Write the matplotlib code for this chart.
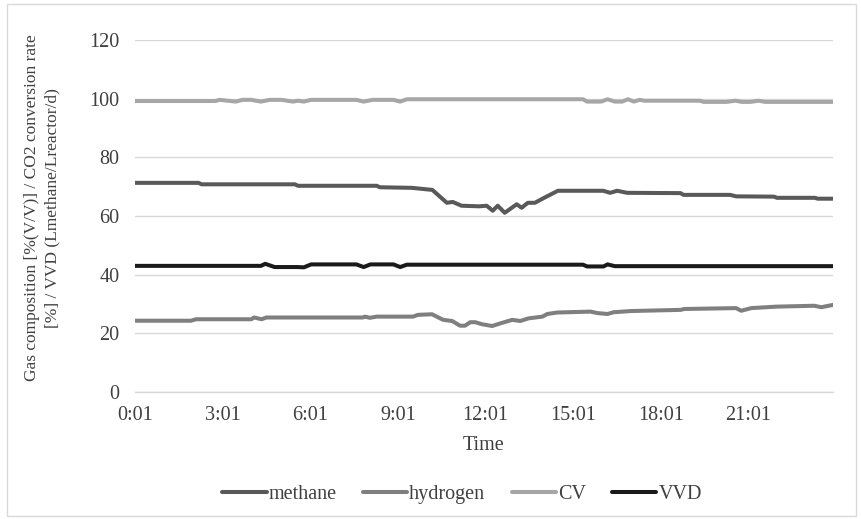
import matplotlib
matplotlib.use("Agg")
import matplotlib.pyplot as plt
from matplotlib.patches import Rectangle

# time in hours (0:01 = 0.02)
methane_t = [0.02, 2.2, 2.3, 5.5, 5.6, 8.3, 8.4, 9.5, 10.2, 10.7, 10.9, 11.2, 11.8, 12.06,
             12.27, 12.44, 12.68, 13.09, 13.26, 13.47, 13.71, 14.05, 14.5, 16.05, 16.29,
             16.53, 16.87, 18.7, 18.8, 20.4, 20.6, 21.9, 22.0, 23.3, 23.4, 23.92]
methane_v = [71.3, 71.3, 70.8, 70.8, 70.3, 70.3, 69.8, 69.6, 68.9, 64.5, 64.8, 63.5, 63.3, 63.5,
             61.8, 63.5, 61.1, 64.0, 62.8, 64.5, 64.5, 66.3, 68.6, 68.6, 67.9,
             68.6, 67.9, 67.8, 67.2, 67.2, 66.7, 66.6, 66.2, 66.2, 65.9, 65.9]

hydrogen_t = [0.02, 1.94, 2.11, 4.0, 4.1, 4.35, 4.52, 7.82, 7.89, 8.06, 8.3, 9.54, 9.71, 10.19,
              10.57, 10.88, 11.15, 11.32, 11.5, 11.67, 11.9, 12.25, 12.53, 12.94, 13.21,
              13.49, 13.97, 14.14, 14.48, 15.62, 15.86, 16.2, 16.41, 17.0, 18.71, 18.82,
              20.6, 20.78, 21.12, 21.98, 23.28, 23.52, 23.92]
hydrogen_v = [24.3, 24.3, 24.8, 24.8, 25.4, 24.8, 25.4, 25.4, 25.7, 25.3, 25.7, 25.7, 26.3, 26.5,
              24.6, 24.2, 22.6, 22.6, 23.8, 23.8, 23.1, 22.5, 23.4, 24.6, 24.2,
              25.1, 25.7, 26.6, 27.1, 27.4, 26.9, 26.6, 27.2, 27.6, 28.0, 28.3,
              28.6, 27.7, 28.6, 29.1, 29.4, 28.9, 29.7]

cv_t = [0.02, 2.77, 2.92, 3.47, 3.7, 4.0, 4.33, 4.64, 5.03, 5.43, 5.6, 5.8, 6.05, 7.6, 7.85,
        8.16, 8.87, 9.1, 9.33, 15.36, 15.5, 15.98, 16.2, 16.45, 16.7, 16.9, 17.1, 17.3,
        17.47, 19.35, 19.5, 20.27, 20.58, 20.8, 21.1, 21.37, 21.6, 23.92]
cv_v = [99.2, 99.2, 99.6, 99.0, 99.6, 99.6, 99.0, 99.6, 99.6, 99.0, 99.3, 99.0, 99.6, 99.6, 99.0,
        99.6, 99.6, 99.0, 99.8, 99.8, 99.0, 99.0, 99.8, 99.0, 99.0, 99.8, 99.0, 99.6,
        99.3, 99.3, 98.9, 98.9, 99.3, 98.9, 98.9, 99.3, 98.9, 98.9]

vvd_t = [0.02, 4.33, 4.48, 4.8, 5.57, 5.8, 6.05, 7.6, 7.85, 8.08, 8.87, 9.1, 9.33, 15.36,
         15.5, 16.06, 16.2, 16.45, 23.92]
vvd_v = [43.0, 43.0, 43.7, 42.6, 42.6, 42.5, 43.5, 43.5, 42.6, 43.5, 43.5, 42.6, 43.4, 43.4,
         42.8, 42.8, 43.5, 42.9, 42.9]

xtick_pos = [0.02, 3.02, 6.02, 9.02, 12.02, 15.02, 18.02, 21.02]
xtick_labels = ["0:01", "3:01", "6:01", "9:01", "12:01", "15:01", "18:01", "21:01"]
yticks = [0, 20, 40, 60, 80, 100, 120]

plt.rcParams['font.family'] = ['Liberation Serif', 'DejaVu Serif']
FS = 14.5

fig = plt.figure(figsize=(8.62, 5.19), dpi=100)
fig.patches.append(Rectangle((7/862, 3/519), 849/862, 512/519, transform=fig.transFigure,
                             fill=False, edgecolor='#d9d9d9', linewidth=1.0))
ax = fig.add_axes([135/862, 1 - 392/519, 698/862, 352/519])

lw = 2.9
ax.plot(methane_t, methane_v, color='#595959', lw=lw, solid_capstyle='round', solid_joinstyle='round', label='methane', zorder=3)
ax.plot(hydrogen_t, hydrogen_v, color='#7f7f7f', lw=lw, solid_capstyle='round', solid_joinstyle='round', label='hydrogen', zorder=3)
ax.plot(cv_t, cv_v, color='#a6a6a6', lw=lw, solid_capstyle='round', solid_joinstyle='round', label='CV', zorder=3)
ax.plot(vvd_t, vvd_v, color='#1a1a1a', lw=lw, solid_capstyle='round', solid_joinstyle='round', label='VVD', zorder=3)

ax.set_xlim(0.02, 23.92)
ax.set_ylim(0, 120)
ax.set_yticks(yticks)
ax.set_xticks(xtick_pos)
ax.set_xticklabels(xtick_labels)
ax.grid(axis='y', color='#d9d9d9', linewidth=1.0, zorder=0)
for s in ['top', 'right', 'left']:
    ax.spines[s].set_visible(False)
ax.spines['bottom'].set_color('#d9d9d9')
ax.spines['bottom'].set_linewidth(1.0)
ax.tick_params(axis='both', length=0, labelsize=FS, colors='#404040')
ax.tick_params(axis='x', pad=10)
ax.tick_params(axis='y', pad=11)

ax.set_xlabel('Time', fontsize=FS, color='#404040', labelpad=8)
ax.set_ylabel('Gas composition [%(V/V)] / CO2 conversion rate\n[%] / VVD (Lmethane/Lreactor/d)',
              fontsize=12.5, color='#404040', linespacing=1.4)
ax.yaxis.set_label_coords(-0.107, 0.523)

leg = fig.legend(loc='center', bbox_to_anchor=(462/862, 1 - 494/519), ncol=4, frameon=False,
                 fontsize=FS, handlelength=2.2, handletextpad=0.1, columnspacing=1.3)
for t in leg.get_texts():
    t.set_color('#404040')

fig.savefig('out.png', dpi=100)
